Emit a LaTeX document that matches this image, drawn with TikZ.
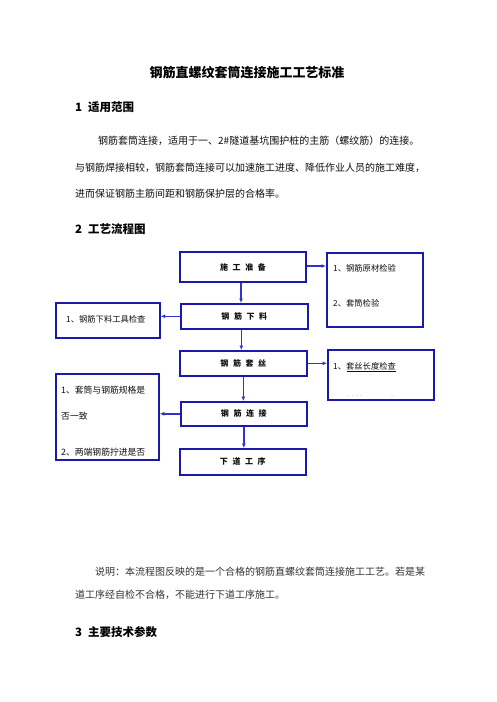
\documentclass[tikz,border=0pt]{standalone}
\usepackage{fontspec}
\setmainfont{Noto Sans CJK SC}
\usetikzlibrary{arrows.meta,calc}
\definecolor{boxcol}{RGB}{25,25,170}
\definecolor{arrcol}{RGB}{50,50,205}
\definecolor{txtcol}{RGB}{15,15,15}
\newcommand{\gp}{\hspace{4.6pt}}
\begin{document}
\begin{tikzpicture}[x=1pt,y=-1pt,
  box/.style={draw=boxcol,line width=1.6pt,inner sep=0pt,anchor=north west},
  flowtxt/.style={font=\fontsize{8}{9}\selectfont\bfseries,text=txtcol},
  side/.style={font=\fontsize{8.3}{10}\selectfont,text=txtcol,anchor=west,inner sep=0pt},
  arr/.style={draw=arrcol,line width=1.6pt,-{Latex[length=4.5pt,width=4pt]}},
  para/.style={font=\fontsize{10}{12}\selectfont,text=txtcol,anchor=west,inner sep=0pt},
  head/.style={font=\fontsize{11.5}{13}\selectfont\bfseries,text=black,anchor=west,inner sep=0pt}]
\useasboundingbox (0,0) rectangle (496,702);
\fill[white] (0,0) rectangle (496,702);

% title and text
\node[font=\fontsize{13}{15}\selectfont\bfseries,inner sep=0pt] (title) at (247,73) {钢筋直螺纹套筒连接施工工艺标准};
\node[head] (h1) at (75,107) {1\hspace{6pt}适用范围};
\node[para] (p1) at (98,141) {钢筋套筒连接，适用于一、2\#隧道基坑围护桩的主筋（螺纹筋）的连接。};
\node[para] (p2) at (75,168) {与钢筋焊接相较，钢筋套筒连接可以加速施工进度、降低作业人员的施工难度，};
\node[para] (p3) at (75,194) {进而保证钢筋主筋间距和钢筋保护层的合格率。};
\node[head] (h2) at (75,229) {2\hspace{6pt}工艺流程图};

% flow boxes
\node[box,line width=2pt,minimum width=126pt,minimum height=30pt] (prep) at (179,251) {};
\node[flowtxt] at (prep.center) {施\gp 工\gp 准\gp 备};
\node[box,minimum width=127pt,minimum height=25pt] (cut) at (180,303) {};
\node[flowtxt] at (cut.center) {钢\gp 筋\gp 下\gp 料};
\node[box,minimum width=127pt,minimum height=25pt] (thread) at (179,350) {};
\node[flowtxt] at (thread.center) {钢\gp 筋\gp 套\gp 丝};
\node[box,minimum width=126pt,minimum height=24pt] (join) at (180,401) {};
\node[flowtxt] at (join.center) {钢\gp 筋\gp 连\gp 接};
\node[box,minimum width=126pt,minimum height=26pt] (next) at (179,448) {};
\node[flowtxt] at (next.center) {下\gp 道\gp 工\gp 序};

% side boxes
\node[box,line width=2pt,minimum width=96pt,minimum height=74pt] (r1) at (326,252) {};
\node[side] (r1a) at (333,268) {1、钢筋原材检验};
\node[side] (r1b) at (333,303) {2、套筒检验};

\node[box,minimum width=104pt,minimum height=35pt] (l1) at (55,302) {};
\node[side] (l1a) at (66,319) {1、钢筋下料工具检查};

\node[box,minimum width=106pt,minimum height=50pt] (r2) at (327,349) {};
\node[side] (r2a) at (333,366) {1、套丝长度检查};
\draw[txtcol,line width=0.5pt] (r2a.south west) ++(14,1.2) -- ($(r2a.south east)+(0,1.2)$);
\fill[gray!70] (349,395) circle (0.5) (353,395) circle (0.5) (357,395) circle (0.5) (361,395) circle (0.5) (392,395) circle (0.5);

\node[box,line width=1.8pt,minimum width=103pt,minimum height=86pt] (l2) at (55,373) {};
\node[side,font=\fontsize{8.8}{10}\selectfont] (l2a) at (61,390) {1、套筒与钢筋规格是};
\node[side,font=\fontsize{8.8}{10}\selectfont] (l2b) at (61,416) {否一致};
\node[side,font=\fontsize{8.8}{10}\selectfont] (l2c) at (61,452) {2、两端钢筋拧进是否};

% arrows
\draw[arr] ($(prep.south)+(-2,0)$) -- ($(prep.south |- cut.north)+(-2,0)$);
\draw[arr] ($(cut.south)+(-3,0)$) -- ($(cut.south |- thread.north)+(-3,0)$);
\draw[arr] (thread.south) -- (thread.south |- join.north);
\draw[arr] (join.south) -- (join.south |- next.north);
\draw[arr] ($(prep.east)+(0,-1)$) -- ($(prep.east -| r1.west)+(0,-1)$);
\draw[arr] (cut.west) -- (cut.west -| l1.east);
\draw[arr] (thread.east) -- (thread.east -| r2.west);
\draw[arr] (join.west) -- (join.west -| l2.east);

% explanation
\node[para,text=black!80] (n1) at (95,572) {说明：本流程图反映的是一个合格的钢筋直螺纹套筒连接施工工艺。若是某};
\node[para,text=black!80] (n2) at (75,595) {道工序经自检不合格，不能进行下道工序施工。};
\node[head] (h3) at (75,632) {3\hspace{6pt}主要技术参数};
\end{tikzpicture}
\end{document}
